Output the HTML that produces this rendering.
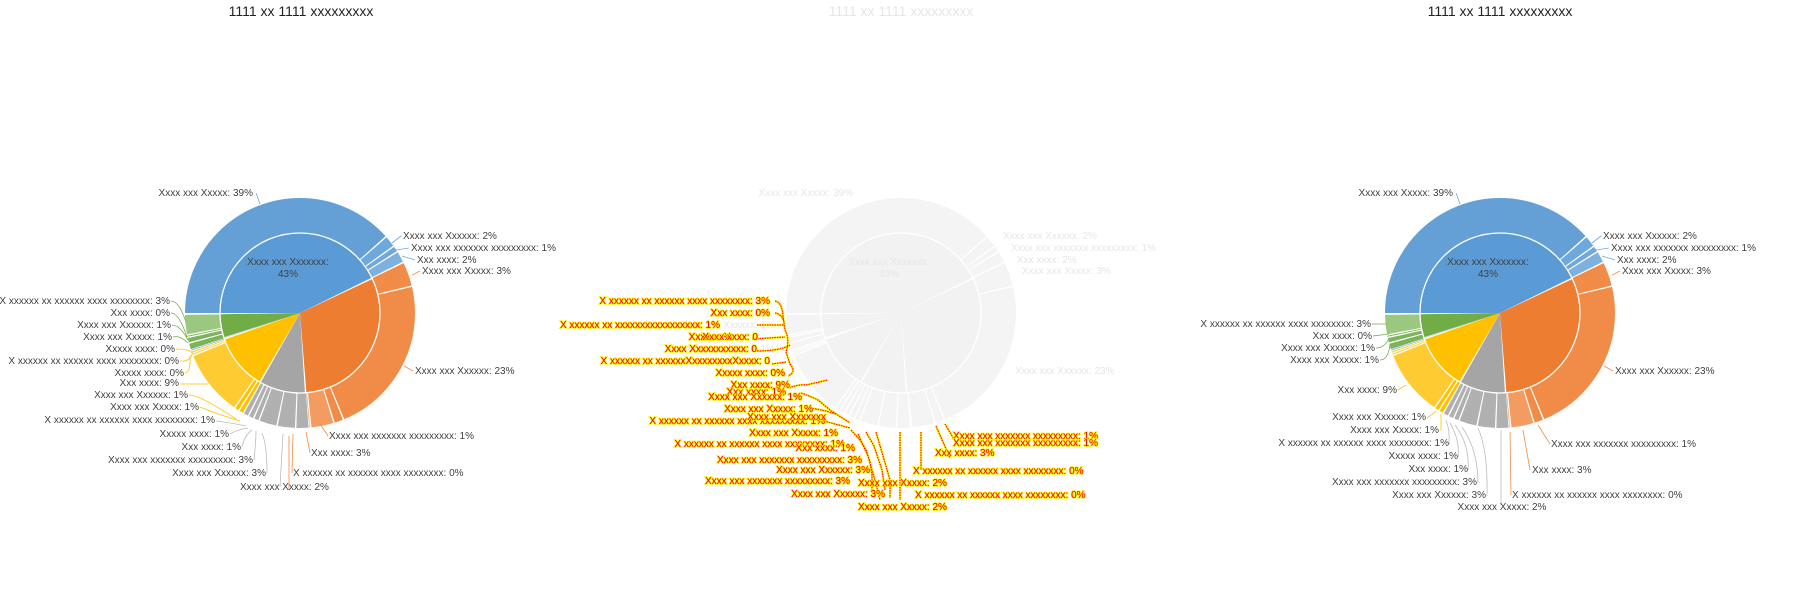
<!DOCTYPE html>
<html><head><meta charset="utf-8"><style>
html,body{margin:0;padding:0;background:#fff}
svg{display:block}
text{font-family:"Liberation Sans",sans-serif;font-size:10px;fill:#404040}
.t{font-size:14px;fill:#222;text-anchor:middle}
.e{text-anchor:end}
.m{text-anchor:middle}
.r{fill:#ee0000;stroke:#ffee00;stroke-width:1.6px;paint-order:stroke}
.f{fill:#e6e6e6}
.ln{fill:none;stroke-width:0.8}
.rl{fill:none;stroke:#ff0000;stroke-width:1;stroke-dasharray:1.5 1}
.yl{fill:none;stroke:#ffee00;stroke-width:2.2}
</style></head><body>
<svg width="1800" height="600" viewBox="0 0 1800 600" xmlns="http://www.w3.org/2000/svg">
<defs>
<g id="pie">
 <g transform="rotate(180)" fill="none">
  <circle r="40" stroke-width="80" pathLength="100" stroke="var(--ib)" stroke-dasharray="42.7 100" stroke-dashoffset="0"/>
  <circle r="40" stroke-width="80" pathLength="100" stroke="var(--io)" stroke-dasharray="30.7 100" stroke-dashoffset="-43"/>
  <circle r="40" stroke-width="80" pathLength="100" stroke="var(--ig)" stroke-dasharray="9.2 100" stroke-dashoffset="-74"/>
  <circle r="40" stroke-width="80" pathLength="100" stroke="var(--iy)" stroke-dasharray="11.1 100" stroke-dashoffset="-83.5"/>
  <circle r="40" stroke-width="80" pathLength="100" stroke="var(--ib)" stroke-dasharray="0.1 100" stroke-dashoffset="-94.85"/>
  <circle r="40" stroke-width="80" pathLength="100" stroke="var(--in)" stroke-dasharray="4.7 100" stroke-dashoffset="-95.05"/>

  <circle r="97.5" stroke-width="35" pathLength="100" stroke="var(--ob)" stroke-dasharray="38.4 100" stroke-dashoffset="0"/>
  <circle r="97.5" stroke-width="35" pathLength="100" stroke="var(--ob2)" stroke-dasharray="1.5 100" stroke-dashoffset="-38.6"/>
  <circle r="97.5" stroke-width="35" pathLength="100" stroke="var(--ob2)" stroke-dasharray="0.7 100" stroke-dashoffset="-40.3"/>
  <circle r="97.5" stroke-width="35" pathLength="100" stroke="var(--ob3)" stroke-dasharray="1.5 100" stroke-dashoffset="-41.2"/>
  <circle r="97.5" stroke-width="35" pathLength="100" stroke="var(--oo)" stroke-dasharray="3.3 100" stroke-dashoffset="-42.9"/>
  <circle r="97.5" stroke-width="35" pathLength="100" stroke="var(--oo)" stroke-dasharray="22.4 100" stroke-dashoffset="-46.4"/>
  <circle r="97.5" stroke-width="35" pathLength="100" stroke="var(--oo)" stroke-dasharray="1.2 100" stroke-dashoffset="-69"/>
  <circle r="97.5" stroke-width="35" pathLength="100" stroke="var(--oo2)" stroke-dasharray="3.1 100" stroke-dashoffset="-70.4"/>
  <circle r="97.5" stroke-width="35" pathLength="100" stroke="var(--oo2)" stroke-dasharray="0.1 100" stroke-dashoffset="-73.7"/>
  <circle r="97.5" stroke-width="35" pathLength="100" stroke="var(--og)" stroke-dasharray="1.7 100" stroke-dashoffset="-73.9"/>
  <circle r="97.5" stroke-width="35" pathLength="100" stroke="var(--og)" stroke-dasharray="2.4 100" stroke-dashoffset="-75.8"/>
  <circle r="97.5" stroke-width="35" pathLength="100" stroke="var(--og)" stroke-dasharray="2.4 100" stroke-dashoffset="-78.4"/>
  <circle r="97.5" stroke-width="35" pathLength="100" stroke="var(--og)" stroke-dasharray="0.6 100" stroke-dashoffset="-81"/>
  <circle r="97.5" stroke-width="35" pathLength="100" stroke="var(--og)" stroke-dasharray="0.6 100" stroke-dashoffset="-81.8"/>
  <circle r="97.5" stroke-width="35" pathLength="100" stroke="var(--og)" stroke-dasharray="0.6 100" stroke-dashoffset="-82.6"/>
  <circle r="97.5" stroke-width="35" pathLength="100" stroke="var(--oy2)" stroke-dasharray="0.5 100" stroke-dashoffset="-83.4"/>
  <circle r="97.5" stroke-width="35" pathLength="100" stroke="var(--oy2)" stroke-dasharray="0.5 100" stroke-dashoffset="-84.1"/>
  <circle r="97.5" stroke-width="35" pathLength="100" stroke="var(--oy)" stroke-dasharray="9.2 100" stroke-dashoffset="-84.8"/>
  <circle r="97.5" stroke-width="35" pathLength="100" stroke="var(--oy)" stroke-dasharray="0.15 100" stroke-dashoffset="-94.2"/>
  <circle r="97.5" stroke-width="35" pathLength="100" stroke="var(--oy)" stroke-dasharray="0.15 100" stroke-dashoffset="-94.5"/>
  <circle r="97.5" stroke-width="35" pathLength="100" stroke="var(--ob)" stroke-dasharray="0.1 100" stroke-dashoffset="-94.8"/>
  <circle r="97.5" stroke-width="35" pathLength="100" stroke="var(--on)" stroke-dasharray="0.8 100" stroke-dashoffset="-95"/>
  <circle r="97.5" stroke-width="35" pathLength="100" stroke="var(--on)" stroke-dasharray="0.6 100" stroke-dashoffset="-96"/>
  <circle r="97.5" stroke-width="35" pathLength="100" stroke="var(--on)" stroke-dasharray="0.15 100" stroke-dashoffset="-96.8"/>
  <circle r="97.5" stroke-width="35" pathLength="100" stroke="var(--on2)" stroke-dasharray="2.7 100" stroke-dashoffset="-97.15"/>
 </g>
 <circle r="80" fill="none" stroke="#fff" stroke-width="1.3"/>
</g>
</defs>

<!-- LEFT CHART -->
<text class="t" x="301" y="16">1111 xx 1111 xxxxxxxxx</text>
<use href="#pie" transform="translate(300,313)" style="--ib:#5b9bd5;--io:#ed7d31;--ig:#a5a5a5;--iy:#ffc000;--in:#70ad47;--ob:#64a0d6;--ob2:#6fa8dc;--ob3:#7fb1df;--oo:#f08c48;--oo2:#f29c62;--og:#b0b0b0;--oy:#ffcb33;--oy2:#ffc000;--on:#7cb45a;--on2:#9cc77f"/>
<text class="m" x="288" y="265">Xxxx xxx Xxxxxxx:</text>
<text class="m" x="288" y="277">43%</text>
<g>
<path class="ln" stroke="#6fa8dc" d="M256 193L260 204M401 236L392 243M409 248L396 250M415 260L402 256"/>
<path class="ln" stroke="#f08c48" d="M420 271L412 275M413 371L404 366M328 436L320 424M310 453L306 432M292 473L293 434M289 490L289 436"/>
<path class="ln" stroke="#bbbbbb" d="M280 487L283 434M267 473Q267 445 262 433M254 460Q256 440 256 431M242 447Q244 436 252 430M230 434Q236 430 248 428M216 421Q232 423 246 426"/>
<path class="ln" stroke="#ffc000" d="M200 407Q214 413 240 421M189 395Q200 395 236 419M180 384L208 384M185 373Q191 372 190 356M180 361Q190 362 192 354M176 349Q190 349 193 354"/>
<path class="ln" stroke="#70ad47" d="M173 337Q180 335 188 343M172 325Q180 325 188 340M171 313Q179 313 187 337M171 301Q179 301 186 322"/>
</g>
<text class="e" x="253" y="196">Xxxx xxx Xxxxx: 39%</text>
<text x="403" y="239">Xxxx xxx Xxxxxx: 2%</text>
<text x="411" y="251">Xxxx xxx xxxxxxx xxxxxxxxx: 1%</text>
<text x="417" y="263">Xxx xxxx: 2%</text>
<text x="422" y="274">Xxxx xxx Xxxxx: 3%</text>
<text x="415" y="374">Xxxx xxx Xxxxxx: 23%</text>
<text x="329" y="439">Xxxx xxx xxxxxxx xxxxxxxxx: 1%</text>
<text x="311" y="456">Xxx xxxx: 3%</text>
<text x="293" y="476">X xxxxxx xx xxxxxx xxxx xxxxxxxx: 0%</text>
<text x="240" y="490">Xxxx xxx Xxxxx: 2%</text>
<text class="e" x="266" y="476">Xxxx xxx Xxxxxx: 3%</text>
<text class="e" x="253" y="463">Xxxx xxx xxxxxxx xxxxxxxxx: 3%</text>
<text class="e" x="241" y="450">Xxx xxxx: 1%</text>
<text class="e" x="229" y="437">Xxxxx xxxx: 1%</text>
<text class="e" x="215" y="423">X xxxxxx xx xxxxxx xxxx xxxxxxxx: 1%</text>
<text class="e" x="199" y="410">Xxxx xxx Xxxxx: 1%</text>
<text class="e" x="188" y="398">Xxxx xxx Xxxxxx: 1%</text>
<text class="e" x="179" y="386">Xxx xxxx: 9%</text>
<text class="e" x="184" y="376">Xxxxx xxxx: 0%</text>
<text class="e" x="179" y="364">X xxxxxx xx xxxxxx xxxx xxxxxxxx: 0%</text>
<text class="e" x="175" y="352">Xxxxx xxxx: 0%</text>
<text class="e" x="172" y="340">Xxxx xxx Xxxxx: 1%</text>
<text class="e" x="171" y="328">Xxxx xxx Xxxxxx: 1%</text>
<text class="e" x="170" y="316">Xxx xxxx: 0%</text>
<text class="e" x="170" y="304">X xxxxxx xx xxxxxx xxxx xxxxxxxx: 3%</text>

<!-- MIDDLE CHART -->
<text class="t" x="901" y="16" style="fill:#e6e6e6">1111 xx 1111 xxxxxxxxx</text>
<use href="#pie" transform="translate(901,313)" style="--ib:#f2f2f2;--io:#f2f2f2;--ig:#f2f2f2;--iy:#f2f2f2;--in:#f2f2f2;--ob:#f4f4f4;--ob2:#f4f4f4;--ob3:#f4f4f4;--oo:#f4f4f4;--oo2:#f4f4f4;--og:#f4f4f4;--oy:#f4f4f4;--oy2:#f4f4f4;--on:#f4f4f4;--on2:#f4f4f4"/>
<text class="m f" x="889" y="265">Xxxx xxx Xxxxxxx:</text>
<text class="m f" x="889" y="277">43%</text>
<text class="e f" x="853" y="196">Xxxx xxx Xxxxx: 39%</text>
<text class="f" x="1003" y="239">Xxxx xxx Xxxxxx: 2%</text>
<text class="f" x="1011" y="251">Xxxx xxx xxxxxxx xxxxxxxxx: 1%</text>
<text class="f" x="1017" y="263">Xxx xxxx: 2%</text>
<text class="f" x="1022" y="274">Xxxx xxx Xxxxx: 3%</text>
<text class="f" x="1015" y="374">Xxxx xxx Xxxxxx: 23%</text>
<text class="e f" x="775" y="328">Xxxx xxx Xxxxxx: 1%</text>
<text class="e f" x="775" y="352">Xxxx xxx Xxxxx: 1%</text>
<g>
<path class="yl" d="M775 301Q782 302 783 316L785 330Q790 340 786 352L790 364Q797 372 788 376M775 313Q782 314 784 322M757 325L784 325M752 339L785 337M757 351Q780 351 790 345M772 364L786 362M789 388Q799 384 806 385L828 380M801 393Q810 396 818 400L830 410L850 423M810 408Q824 410 836 414M824 421L850 428M851 430L860 440L866 450L870 462L872 475L872 492M858 434L868 456L876 484L880 500M866 432L874 446L882 470L885 490M876 432L890 480L890 498M900 432L900 500M921 432L921 470M936 426L950 458M945 424L958 446"/>
<path class="rl" d="M775 301Q782 302 783 316L785 330Q790 340 786 352L790 364Q797 372 788 376M775 313Q782 314 784 322M757 325L784 325M752 339L785 337M757 351Q780 351 790 345M772 364L786 362M789 388Q799 384 806 385L828 380M801 393Q810 396 818 400L830 410L850 423M810 408Q824 410 836 414M824 421L850 428M851 430L860 440L866 450L870 462L872 475L872 492M858 434L868 456L876 484L880 500M866 432L874 446L882 470L885 490M876 432L890 480L890 498M900 432L900 500M921 432L921 470M936 426L950 458M945 424L958 446"/>
</g>
<text class="e r" x="770" y="304">X xxxxxx xx xxxxxx xxxx xxxxxxxx: 3%</text>
<text class="e r" x="770" y="316">Xxx xxxx: 0%</text>
<text class="e r" x="720" y="328">X xxxxxx xx xxxxxxxxxxxxxxxxx: 1%</text>
<text class="e r" x="732" y="340">Xxxx xx%</text>
<text class="e r" x="758" y="340">Xxxx xxxx: 0</text>
<text class="e r" x="757" y="352">Xxxx Xxxxxxxxxxx: 0</text>
<text class="e r" x="770" y="364">X xxxxxx xx xxxxxxXxxxxxxxxXxxxx: 0</text>
<text class="e r" x="785" y="376">Xxxxx xxxx: 0%</text>
<text class="e r" x="790" y="388">Xxx xxxx: 9%</text>
<text class="e r" x="786" y="395">Xxx xxxx: 1%</text>
<text class="e r" x="802" y="400">Xxxx xxx Xxxxxx: 1%</text>
<text class="e r" x="813" y="412">Xxxx xxx Xxxxx: 1%</text>
<text class="e r" x="825" y="424">X xxxxxx xx xxxxxx xxxx xxxxxxxxx: 1%</text>
<text class="e r" x="826" y="420">Xxxx xxx Xxxxxxx</text>
<text class="e r" x="838" y="436">Xxxx xxx Xxxxx: 1%</text>
<text class="e r" x="845" y="447">X xxxxxx xx xxxxxx xxxx xxxxxxxx: 1%</text>
<text class="e r" x="855" y="451">Xxx xxxx: 1%</text>
<text class="e r" x="862" y="463">Xxxx xxx xxxxxxx xxxxxxxxx: 3%</text>
<text class="e r" x="870" y="473">Xxxx xxx Xxxxxx: 3%</text>
<text class="e r" x="850" y="484">Xxxx xxx xxxxxxx xxxxxxxxx: 3%</text>
<text class="e r" x="885" y="497">Xxxx xxx Xxxxxx: 3%</text>
<text class="r" x="858" y="486">Xxxx xxx Xxxxx: 2%</text>
<text class="r" x="858" y="510">Xxxx xxx Xxxxx: 2%</text>
<text class="r" x="953" y="439">Xxxx xxx xxxxxxx xxxxxxxxx: 1%</text>
<text class="r" x="953" y="446">Xxxx xxx xxxxxxx xxxxxxxxx: 1%</text>
<text class="r" x="935" y="456">Xxx xxxx: 3%</text>
<text class="r" x="913" y="474">X xxxxxx xx xxxxxx xxxx xxxxxxxx: 0%</text>
<text class="r" x="915" y="498">X xxxxxx xx xxxxxx xxxx xxxxxxxx: 0%</text>

<!-- RIGHT CHART -->
<text class="t" x="1500" y="16">1111 xx 1111 xxxxxxxxx</text>
<use href="#pie" transform="translate(1500,313)" style="--ib:#5b9bd5;--io:#ed7d31;--ig:#a5a5a5;--iy:#ffc000;--in:#70ad47;--ob:#64a0d6;--ob2:#6fa8dc;--ob3:#7fb1df;--oo:#f08c48;--oo2:#f29c62;--og:#b0b0b0;--oy:#ffcb33;--oy2:#ffc000;--on:#7cb45a;--on2:#9cc77f"/>
<text class="m" x="1488" y="265">Xxxx xxx Xxxxxxx:</text>
<text class="m" x="1488" y="277">43%</text>
<g>
<path class="ln" stroke="#6fa8dc" d="M1456 193L1460 204M1601 236L1592 243M1609 248L1596 250M1615 260L1602 256"/>
<path class="ln" stroke="#f08c48" d="M1620 271L1612 275M1613 371L1604 366M1550 444L1538 425M1530 470L1523 430M1511 495L1510 432"/>
<path class="ln" stroke="#bbbbbb" d="M1501 505L1501 430M1487 496Q1488 450 1478 428M1478 483Q1478 450 1462 427M1468 470Q1470 445 1455 425M1458 457Q1460 440 1450 423M1449 444Q1450 430 1446 420"/>
<path class="ln" stroke="#ffc000" d="M1441 431L1441 414M1427 418Q1432 415 1436 411M1398 390L1406 385"/>
<path class="ln" stroke="#70ad47" d="M1380 360Q1388 360 1390 345M1376 348Q1384 348 1388 340M1373 336L1389 334M1372 324L1387 324"/>
</g>
<text class="e" x="1453" y="196">Xxxx xxx Xxxxx: 39%</text>
<text x="1603" y="239">Xxxx xxx Xxxxxx: 2%</text>
<text x="1611" y="251">Xxxx xxx xxxxxxx xxxxxxxxx: 1%</text>
<text x="1617" y="263">Xxx xxxx: 2%</text>
<text x="1622" y="274">Xxxx xxx Xxxxx: 3%</text>
<text x="1615" y="374">Xxxx xxx Xxxxxx: 23%</text>
<text x="1551" y="447">Xxxx xxx xxxxxxx xxxxxxxxx: 1%</text>
<text x="1532" y="473">Xxx xxxx: 3%</text>
<text x="1512" y="498">X xxxxxx xx xxxxxx xxxx xxxxxxxx: 0%</text>
<text class="m" x="1502" y="510">Xxxx xxx Xxxxx: 2%</text>
<text class="e" x="1486" y="498">Xxxx xxx Xxxxxx: 3%</text>
<text class="e" x="1477" y="485">Xxxx xxx xxxxxxx xxxxxxxxx: 3%</text>
<text class="e" x="1468" y="472">Xxx xxxx: 1%</text>
<text class="e" x="1458" y="459">Xxxxx xxxx: 1%</text>
<text class="e" x="1449" y="446">X xxxxxx xx xxxxxx xxxx xxxxxxxx: 1%</text>
<text class="e" x="1439" y="433">Xxxx xxx Xxxxx: 1%</text>
<text class="e" x="1426" y="420">Xxxx xxx Xxxxxx: 1%</text>
<text class="e" x="1397" y="393">Xxx xxxx: 9%</text>
<text class="e" x="1379" y="363">Xxxx xxx Xxxxx: 1%</text>
<text class="e" x="1375" y="351">Xxxx xxx Xxxxxx: 1%</text>
<text class="e" x="1372" y="339">Xxx xxxx: 0%</text>
<text class="e" x="1371" y="327">X xxxxxx xx xxxxxx xxxx xxxxxxxx: 3%</text>
</svg>
</body></html>
